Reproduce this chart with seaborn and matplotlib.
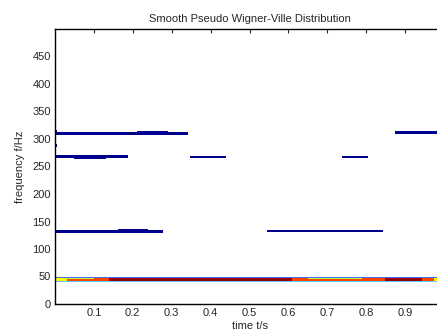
import matplotlib
matplotlib.use("Agg")
import matplotlib.pyplot as plt
import seaborn as sns
import pandas as pd

# ridge segments of the SPWVD: start time, end time, centre frequency (Hz)
blue_t0 = [0.002, 0.21, 0.874, 0.002, 0.05, 0.347, 0.738, 0.002, 0.163, 0.546, 0.0, 0.0]
blue_t1 = [0.343, 0.29, 1.0, 0.187, 0.13, 0.44, 0.805, 0.278, 0.24, 0.843, 0.006, 0.004]
blue_f = [310, 312, 312, 268, 265, 267, 267, 132, 135, 133, 315, 288]

# low frequency band (strong component) pieces
band_t0 = [0.0, 0.03, 0.14, 0.609, 0.65, 0.79, 0.848, 0.944, 0.975]
band_t1 = [0.03, 0.14, 0.609, 0.65, 0.79, 0.848, 0.944, 0.975, 1.0]
band_col = ["#ffff00", "#ff4400", "#990000", "#ff4400", "#ff4400", "#ff4400", "#990000", "#ff4400", "#ffff00"]
hi_t0 = [0.03, 0.65]
hi_t1 = [0.10, 0.79]

ridges = pd.DataFrame({"t0": blue_t0, "t1": blue_t1, "f": blue_f})
band = pd.DataFrame({"t0": band_t0, "t1": band_t1, "c": band_col})

sns.set_style("white")
plt.rcParams['font.family'] = ['Liberation Sans', 'DejaVu Sans']

fig = plt.figure(figsize=(4.37, 3.33), dpi=100)
ax = fig.add_axes([55 / 437, (333 - 304) / 333, 389 / 437, 275 / 333])

# blue ridges
for _, r in ridges.iterrows():
    ax.broken_barh([(r.t0, r.t1 - r.t0)], (r.f - 2.2, 4.4), facecolor="#00008f", edgecolor="none")

# band: blue envelope, cyan lower edge, hot core
ax.broken_barh([(0.0, 1.0)], (40.5, 9.0), facecolor="#3f6cf0", edgecolor="none")
ax.broken_barh([(0.0, 1.0)], (40.5, 1.6), facecolor="#55ccff", edgecolor="none")
for _, r in band.iterrows():
    ax.broken_barh([(r.t0, r.t1 - r.t0)], (42.1, 5.6), facecolor=r.c, edgecolor="none")
for a, b in zip(hi_t0, hi_t1):
    ax.broken_barh([(a, b - a)], (45.9, 1.8), facecolor="#b5ff3a", edgecolor="none")

ax.set_xlim(0, 1)
ax.set_ylim(0, 500)
ax.set_xticks([0.1, 0.2, 0.3, 0.4, 0.5, 0.6, 0.7, 0.8, 0.9])
ax.set_xticklabels(["0.1", "0.2", "0.3", "0.4", "0.5", "0.6", "0.7", "0.8", "0.9"])
ax.set_yticks(range(0, 500, 50))
ax.tick_params(direction="in", length=3, width=0.8, labelsize=8, top=True, right=True, pad=3)
for s in ax.spines.values():
    s.set_color("black")
    s.set_linewidth(1.0)

ax.set_title("Smooth Pseudo Wigner-Ville Distribution", fontsize=8, pad=5)
ax.set_xlabel("time t/s", fontsize=8, labelpad=2)
ax.set_ylabel("frequency f/Hz", fontsize=8, labelpad=5)

fig.savefig("out.png", dpi=100)
